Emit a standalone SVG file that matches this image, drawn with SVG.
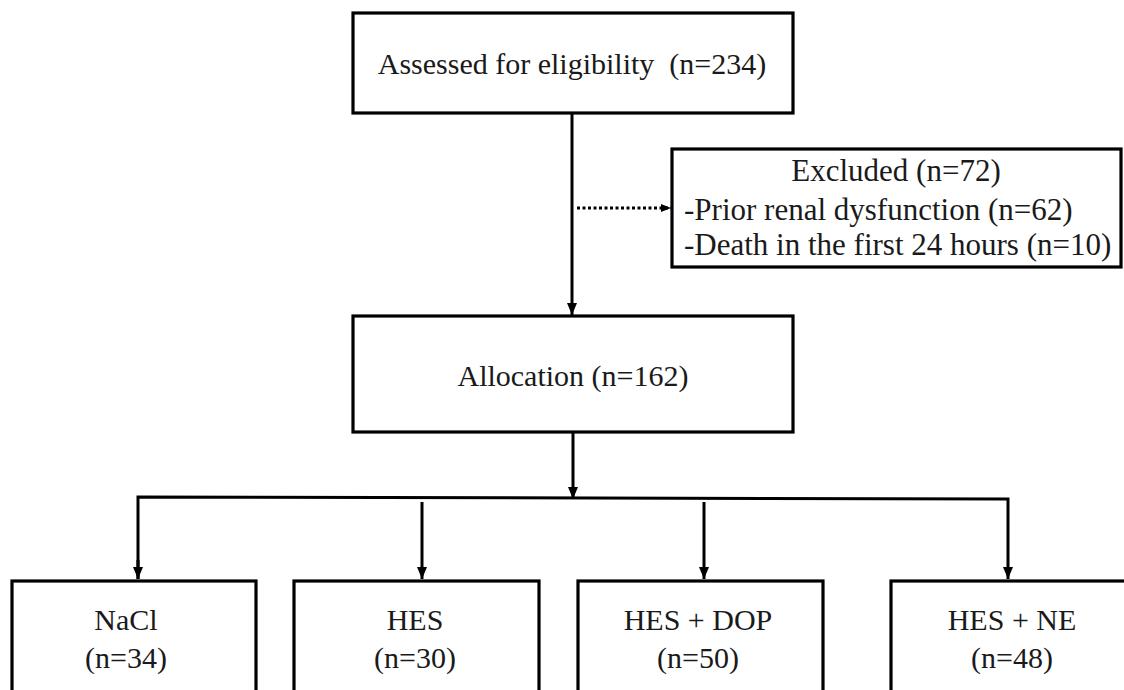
<svg xmlns="http://www.w3.org/2000/svg" width="1124" height="690" viewBox="0 0 1124 690">
<style>
.box{fill:#fff;stroke:#000;stroke-width:3.2}
.ln{fill:none;stroke:#000;stroke-width:3}
.t{font-family:'Liberation Serif','DejaVu Serif',serif;font-size:30px;fill:#1a1a1a}
.c{text-anchor:middle}
</style>
<defs>
<marker id="ah" markerUnits="userSpaceOnUse" markerWidth="12" markerHeight="12" refX="12" refY="6" orient="auto" viewBox="0 0 12 12">
<path d="M0,1 L12,6 L0,11 z" fill="#000"/>
</marker>
<marker id="ahs" markerUnits="userSpaceOnUse" markerWidth="10" markerHeight="10" refX="10" refY="5" orient="auto" viewBox="0 0 10 10">
<path d="M0,1 L10,5 L0,9 z" fill="#000"/>
</marker>
</defs>
<rect width="1124" height="690" fill="#fff"/>
<g id="connectors">
<line class="ln" x1="572" y1="113" x2="572" y2="315" marker-end="url(#ah)"/>
<line class="ln" x1="577" y1="208" x2="671" y2="208" stroke-dasharray="3,2.5" marker-end="url(#ahs)"/>
<line class="ln" x1="573" y1="432" x2="573" y2="499" marker-end="url(#ah)"/>
<polyline class="ln" points="138,579 138,497 1008,499 1008,579" marker-end="url(#ah)"/>
<line class="ln" x1="138" y1="560" x2="138" y2="579" marker-end="url(#ah)"/>
<line class="ln" x1="422" y1="502" x2="422" y2="579" marker-end="url(#ah)"/>
<line class="ln" x1="704" y1="502" x2="704" y2="579" marker-end="url(#ah)"/>
</g>
<g id="assessed">
<rect class="box" x="353" y="13" width="440" height="100"/>
<text class="t c" x="572" y="74" xml:space="preserve">Assessed for eligibility  (n=234)</text>
</g>
<g id="excluded">
<rect class="box" x="672" y="149" width="449" height="118"/>
<text class="t c" x="896" y="181" style="font-size:31px">Excluded (n=72)</text>
<text class="t" x="684" y="220" style="font-size:31px">-Prior renal dysfunction (n=62)</text>
<text class="t" x="684" y="255" style="font-size:31px">-Death in the first 24 hours (n=10)</text>
</g>
<g id="allocation">
<rect class="box" x="353" y="316" width="440" height="116"/>
<text class="t c" x="573" y="386">Allocation (n=162)</text>
</g>
<g id="nacl">
<rect class="box" x="12" y="581" width="244" height="120"/>
<text class="t c" x="126" y="630">NaCl</text>
<text class="t c" x="126" y="668">(n=34)</text>
</g>
<g id="hes">
<rect class="box" x="294" y="581" width="245" height="120"/>
<text class="t c" x="415" y="630">HES</text>
<text class="t c" x="415" y="668">(n=30)</text>
</g>
<g id="hesdop">
<rect class="box" x="578" y="581" width="245" height="120"/>
<text class="t c" x="698" y="630">HES + DOP</text>
<text class="t c" x="698" y="668">(n=50)</text>
</g>
<g id="hesne">
<rect class="box" x="891" y="581" width="245" height="120"/>
<text class="t c" x="1012" y="630">HES + NE</text>
<text class="t c" x="1012" y="668">(n=48)</text>
</g>
</svg>
